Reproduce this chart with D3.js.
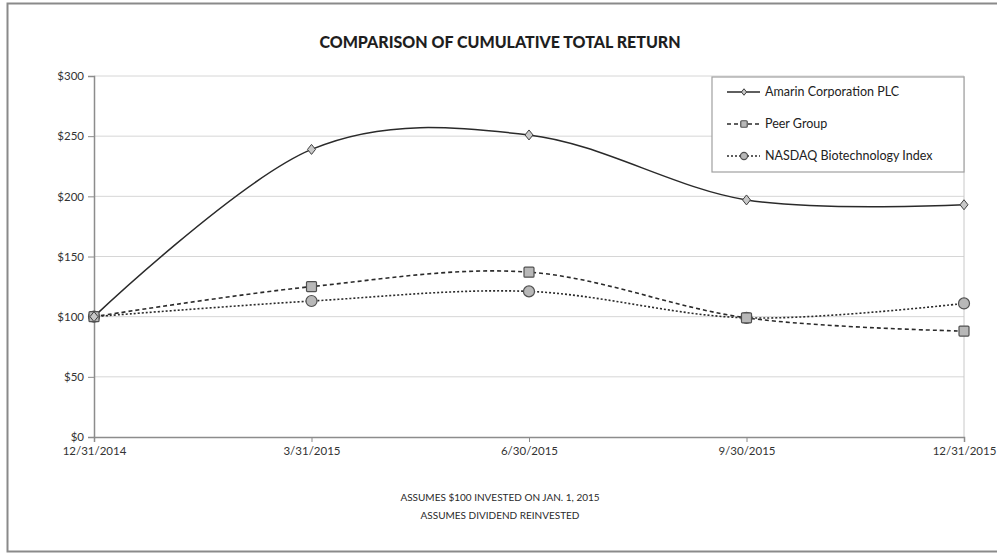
<!DOCTYPE html>
<html><head><meta charset="utf-8">
<script src="https://cdn.jsdelivr.net/npm/d3@7"></script>
<style>body{margin:0;background:#fff;} svg{display:block;font-family:Lato,"Open Sans",sans-serif;}</style>
</head><body>
<svg id="c" width="997" height="554"></svg>
<script>
const dates = ["12/31/2014","3/31/2015","6/30/2015","9/30/2015","12/31/2015"];
const amarin = [100, 239, 251, 197, 193];
const peer = [100, 125, 137, 99, 88];
const nasdaq = [100, 113, 121, 99, 111];
const yTicks = [0, 50, 100, 150, 200, 250, 300];
const seriesNames = ["Amarin Corporation PLC", "Peer Group", "NASDAQ Biotechnology Index"];

const svg = d3.select("#c");
svg.append("rect").attr("x",7.5).attr("y",3.5).attr("width",1000).attr("height",548)
  .attr("fill","none").attr("stroke","#8a8a8a").attr("stroke-width",2);

const L=94, R=964, T=76, B=437;
const x = d3.scalePoint().domain(dates).range([L,R]);
const y = d3.scaleLinear().domain([0,300]).range([B,T]);

svg.append("g").selectAll("line").data(yTicks.slice(1)).join("line")
  .attr("x1",L).attr("x2",R).attr("y1",d=>y(d)).attr("y2",d=>y(d))
  .attr("stroke","#d6d6d6").attr("stroke-width",1);

svg.append("line").attr("x1",R).attr("x2",R).attr("y1",T).attr("y2",B).attr("stroke","#c8c8c8");

const yAxis = svg.append("g").attr("transform",`translate(${L},0)`)
  .call(d3.axisLeft(y).tickValues(yTicks).tickFormat(d=>"$"+d).tickSize(6).tickPadding(4));
const xAxis = svg.append("g").attr("transform",`translate(0,${B})`)
  .call(d3.axisBottom(x).tickSize(5).tickPadding(5));
[yAxis,xAxis].forEach(a=>{
  a.select(".domain").attr("stroke","#8c8c8c").attr("stroke-width",1.5);
  a.selectAll(".tick line").attr("stroke","#8c8c8c");
  a.selectAll("text").attr("fill","#333").style("font-size","11.5px").style("font-family","Lato, sans-serif");
});

const curve = d3.curveCardinal.tension(0);
const line = d3.line().x((d,i)=>x(dates[i])).y(d=>y(d)).curve(curve);

const styles = [
  {data:amarin, dash:null, w:1.5, shape:"diamond"},
  {data:peer, dash:"4,3", w:1.6, shape:"square"},
  {data:nasdaq, dash:"2,2", w:1.6, shape:"circle"}
];

function marker(g, shape, cx, cy, scale){
  scale = scale||1;
  if(shape==="diamond"){
    const s=5*scale;
    g.append("path").attr("d",`M${cx},${cy-s}L${cx+s*0.8},${cy}L${cx},${cy+s}L${cx-s*0.8},${cy}Z`)
      .attr("fill","#c8c8c8").attr("stroke","#404040").attr("stroke-width",1);
  } else if(shape==="square"){
    const s=5*scale;
    g.append("rect").attr("x",cx-s).attr("y",cy-s).attr("width",2*s).attr("height",2*s).attr("rx",1)
      .attr("fill","#b8b8b8").attr("stroke","#505050").attr("stroke-width",1.2);
  } else {
    g.append("ellipse").attr("cx",cx).attr("cy",cy).attr("rx",5.5*scale).attr("ry",5.5*scale)
      .attr("fill","#b8b8b8").attr("stroke","#505050").attr("stroke-width",1.2);
  }
}

styles.slice().reverse().forEach(s=>{
  svg.append("path").datum(s.data).attr("d",line).attr("fill","none")
    .attr("stroke","#2a2a2a").attr("stroke-width",s.w)
    .attr("stroke-dasharray",s.dash);
});
styles.slice().reverse().forEach(s=>{
  const g=svg.append("g");
  s.data.forEach((v,i)=>marker(g,s.shape,x(dates[i]),y(v)));
});

const lg = svg.append("g");
lg.append("rect").attr("x",712).attr("y",77).attr("width",252).attr("height",95)
  .attr("fill","#fff").attr("stroke","#a0a0a0").attr("stroke-width",1.2);
seriesNames.forEach((n,i)=>{
  const ly = 92 + i*32;
  lg.append("line").attr("x1",727).attr("x2",760).attr("y1",ly).attr("y2",ly)
    .attr("stroke","#2a2a2a").attr("stroke-width",1.5).attr("stroke-dasharray",styles[i].dash);
  marker(lg, styles[i].shape, 744, ly, 0.65);
  lg.append("text").attr("x",765).attr("y",ly+4).text(n)
    .attr("fill","#222").style("font-size","12.5px");
});

svg.append("text").attr("x",500).attr("y",48).attr("text-anchor","middle")
  .style("font-size","16px").style("font-weight","900").attr("fill","#1e1e1e")
  .text("COMPARISON OF CUMULATIVE TOTAL RETURN");

svg.append("text").attr("x",500).attr("y",501).attr("text-anchor","middle")
  .style("font-size","10px").attr("fill","#2a2a2a").text("ASSUMES $100 INVESTED ON JAN. 1, 2015");
svg.append("text").attr("x",500).attr("y",519).attr("text-anchor","middle")
  .style("font-size","10px").attr("fill","#2a2a2a").text("ASSUMES DIVIDEND REINVESTED");
</script>
</body></html>
